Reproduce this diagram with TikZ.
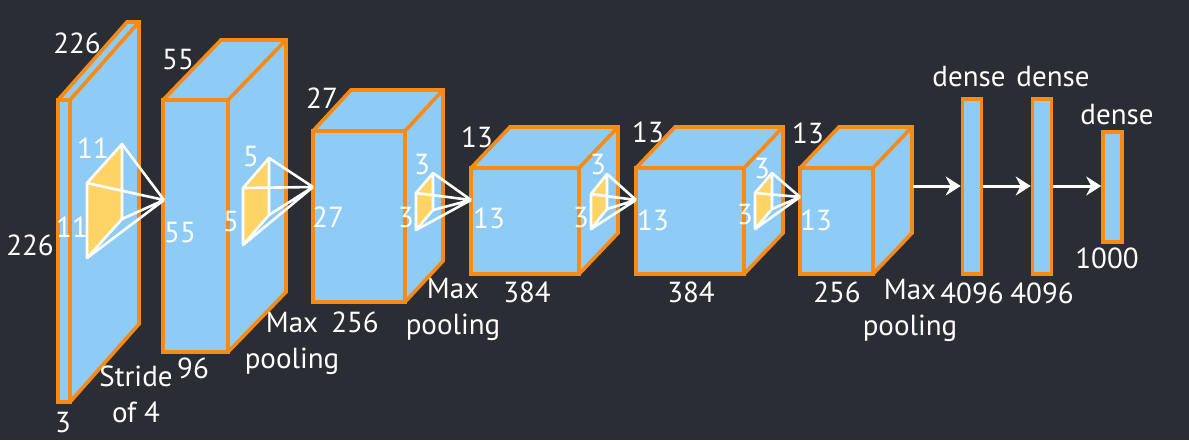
\documentclass[tikz,border=0pt]{standalone}
\usepackage{fontspec}
\setmainfont{PT Sans}
\usetikzlibrary{arrows.meta}
\definecolor{bgc}{RGB}{43,45,53}
\definecolor{boxblue}{RGB}{142,204,245}
\definecolor{boxorange}{RGB}{250,138,20}
\definecolor{filteryellow}{RGB}{255,212,102}
\newcommand{\layerbox}[6]{% x1 y1 x2 y2 dx dy(up)
  \fill[boxblue] (#1,#2) -- (#1+#5,#2-#6) -- (#3+#5,#2-#6) -- (#3+#5,#4-#6) -- (#3,#4) -- (#1,#4) -- cycle;
  \draw[edge] (#1,#2) rectangle (#3,#4);
  \draw[edge] (#1,#2) -- (#1+#5,#2-#6) -- (#3+#5,#2-#6) -- (#3+#5,#4-#6) -- (#3,#4);
  \draw[edge] (#3,#2) -- (#3+#5,#2-#6);
}
\newcommand{\kernel}[7]{% xa ytop ybot xb rise apexx apexy
  \fill[filteryellow] (#1,#2) -- (#4,#2-#5) -- (#4,#3-#5) -- (#1,#3) -- cycle;
  \draw[wline] (#1,#2) -- (#4,#2-#5) -- (#4,#3-#5) -- (#1,#3) -- cycle;
  \draw[wline] (#1,#2) -- (#6,#7) (#4,#2-#5) -- (#6,#7) (#4,#3-#5) -- (#6,#7) (#1,#3) -- (#6,#7);
}
\begin{document}
\begin{tikzpicture}[x=1pt,y=-1pt,
  edge/.style={draw=boxorange,line width=3.6pt,line join=miter},
  wline/.style={draw=white,line width=2.6pt,line join=round},
  lbl/.style={text=white,font=\fontsize{29}{36}\selectfont,inner sep=0pt,align=center},
  densebox/.style={draw=boxorange,fill=boxblue,line width=3.6pt,inner sep=0pt,minimum width=19pt},
  arr/.style={draw=white,line width=3pt,-{Stealth[length=15pt,width=19pt,inset=5pt]}}]
\fill[bgc] (0,0) rectangle (1189,440);
\useasboundingbox (0,0) rectangle (1189,440);
% conv blocks
\layerbox{58}{100}{70}{402}{69}{78}
\layerbox{163}{100}{228}{352}{58}{60}
\layerbox{313}{131}{405}{302}{38}{41}
\layerbox{471}{168}{579}{274}{39}{41}
\layerbox{636}{168}{744}{274}{39}{41}
\layerbox{800}{168}{873}{274}{39}{41}
% kernels
\kernel{87}{183}{258}{122}{39}{164}{200}
\kernel{243}{188}{245}{269}{30}{313}{187}
\kernel{416}{193}{230}{433}{20}{471}{200}
\kernel{591}{194}{229}{607}{20}{636}{200}
\kernel{755}{193}{229}{772}{20}{800}{197}
% dense layers
\node[densebox,minimum height=175pt] (d1) at (972,186.5) {};
\node[densebox,minimum height=175pt] (d2) at (1042,186.5) {};
\node[densebox,minimum height=110pt] (d3) at (1112.5,187) {};
\coordinate (c6) at (913,186);
\draw[arr] (c6) -- (d1.west |- c6);
\draw[arr] (d1.east |- c6) -- (d2.west |- c6);
\draw[arr] (d2.east |- c6) -- (d3.west |- c6);
% labels block 1
\node[lbl] (l1a) at (77,43) {226};
\node[lbl] (l1b) at (30,245) {226};
\node[lbl] (l1c) at (63,423) {3};
\node[lbl] (k1a) at (93,148) {11};
\node[lbl] (k1b) at (72,227) {11};
\node[lbl] (s1) at (136,394) {Stride\\of 4};
% block 2
\node[lbl] (l2a) at (178,60) {55};
\node[lbl] (l2b) at (180,233) {55};
\node[lbl] (l2c) at (193,368) {96};
\node[lbl] (k2a) at (251,157) {5};
\node[lbl] (k2b) at (231,222) {5};
\node[lbl] (m2) at (292,343) {Max\\pooling};
% block 3
\node[lbl] (l3a) at (322,98) {27};
\node[lbl] (l3b) at (328,217) {27};
\node[lbl] (l3c) at (355,322) {256};
\node[lbl] (k3a) at (422,165) {3};
\node[lbl] (k3b) at (406,218) {3};
\node[lbl] (m3) at (453,309) {Max\\pooling};
% block 4
\node[lbl] (l4a) at (477,137) {13};
\node[lbl] (l4b) at (489,218) {13};
\node[lbl] (l4c) at (527,292) {384};
\node[lbl] (k4a) at (598,165) {3};
\node[lbl] (k4b) at (581,218) {3};
% block 5
\node[lbl] (l5a) at (648,132) {13};
\node[lbl] (l5b) at (653,220) {13};
\node[lbl] (l5c) at (691,292) {384};
\node[lbl] (k5a) at (762,169) {3};
\node[lbl] (k5b) at (745,215) {3};
% block 6
\node[lbl] (l6a) at (808,133) {13};
\node[lbl] (l6b) at (816,220) {13};
\node[lbl] (l6c) at (837,292) {256};
\node[lbl] (m6) at (910,310) {Max\\pooling};
% dense labels
\node[lbl] (t1) at (969,77) {dense};
\node[lbl] (t2) at (1053,77) {dense};
\node[lbl] (t3) at (1117,115) {dense};
\node[lbl] (n1) at (972,293) {4096};
\node[lbl] (n2) at (1042,293) {4096};
\node[lbl] (n3) at (1107,258) {1000};
\end{tikzpicture}
\end{document}
